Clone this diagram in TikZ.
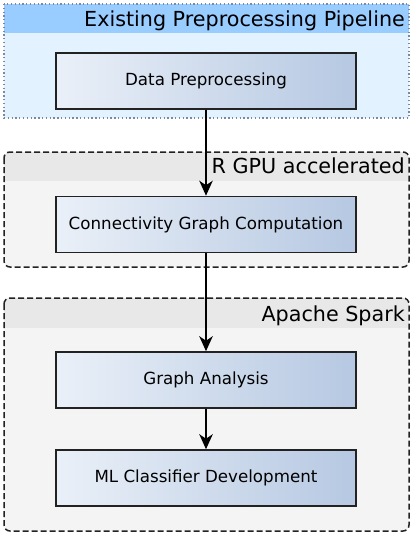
\documentclass[tikz,border=0pt]{standalone}
\usepackage{fontspec}
\setmainfont{DejaVu Sans}
\usetikzlibrary{arrows.meta,shadings}
\definecolor{hdrblue}{HTML}{99CCFF}
\definecolor{bodyblue}{HTML}{E2F2FF}
\definecolor{hdrgray}{HTML}{E8E8E8}
\definecolor{bodygray}{HTML}{F4F4F4}
\definecolor{boxL}{HTML}{EAF0F8}
\definecolor{boxR}{HTML}{B6C8E2}
\definecolor{edge}{HTML}{222222}
\definecolor{dotc}{HTML}{7A88A8}
\tikzset{
  stepbox/.style={draw=edge, line width=1.6pt, left color=boxL, right color=boxR,
    minimum width=300pt, minimum height=56pt, inner sep=0pt, font=\fontsize{16.7}{19}\selectfont},
  grouptitle/.style={anchor=base east, inner sep=0pt, font=\fontsize{20.7}{24}\selectfont},
  flow/.style={draw=black, line width=1.4pt, -{Stealth[length=15pt,width=13.5pt,inset=4.5pt]}},
}
\begin{document}
\begin{tikzpicture}[x=1pt,y=-1pt]
\useasboundingbox (0,0) rectangle (413,535);
% group 1: existing pipeline
\fill[bodyblue] (4,4) rectangle (409,118);
\fill[hdrblue] (4,4) rectangle (409,33);
\draw[dotc, line width=1.3pt, dash pattern=on 1.3pt off 2.5pt] (4,4) rectangle (409,118);
\node[grouptitle] (t1) at (405,27) {Existing Preprocessing Pipeline};
% group 2: R GPU
\begin{scope}
\clip[rounded corners=6pt] (4,152) rectangle (409,267);
\fill[bodygray] (4,152) rectangle (409,267);
\fill[hdrgray] (4,152) rectangle (409,181);
\end{scope}
\draw[edge, line width=1.5pt, dash pattern=on 6pt off 3pt, rounded corners=6pt] (4,152) rectangle (409,267);
\node[grouptitle] (t2) at (405,173) {R GPU accelerated};
% group 3: Apache Spark
\begin{scope}
\clip[rounded corners=6pt] (4,298) rectangle (409,531);
\fill[bodygray] (4,298) rectangle (409,531);
\fill[hdrgray] (4,298) rectangle (409,328);
\end{scope}
\draw[edge, line width=1.5pt, dash pattern=on 6pt off 3pt, rounded corners=6pt] (4,298) rectangle (409,531);
\node[grouptitle] (t3) at (405,321) {Apache Spark};
% steps
\node[stepbox] (dp) at (206,81) {Data Preprocessing};
\node[stepbox] (cg) at (206,224.5) {Connectivity Graph Computation};
\node[stepbox] (ga) at (206,380) {Graph Analysis};
\node[stepbox] (ml) at (206,478) {ML Classifier Development};
\draw[flow] (dp) -- (cg);
\draw[flow] (cg) -- (ga);
\draw[flow] (ga) -- (ml);
\end{tikzpicture}
\end{document}
